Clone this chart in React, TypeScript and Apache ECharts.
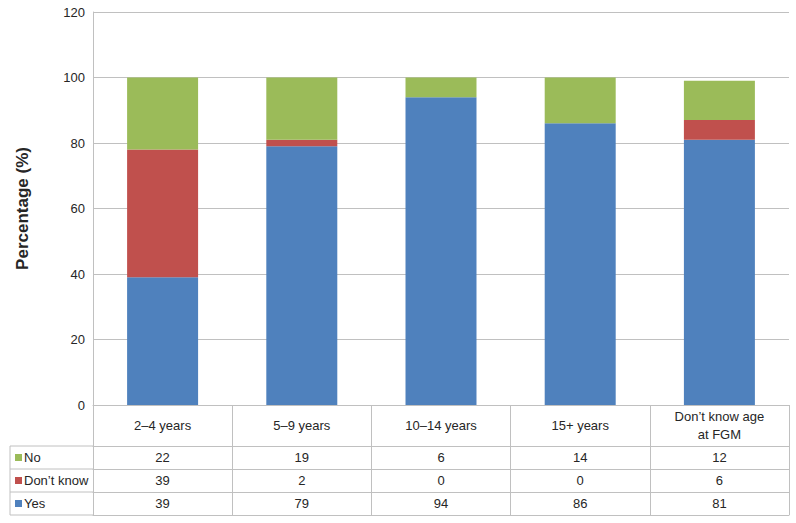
import React, { useEffect, useRef } from "react";
import * as echarts from "echarts";

const categories = ["2–4 years", "5–9 years", "10–14 years", "15+ years", "Don’t know age\nat FGM"];
const yesValues = [39, 79, 94, 86, 81];
const dontKnowValues = [39, 2, 0, 0, 6];
const noValues = [22, 19, 6, 14, 12];
const rowNames = ["No", "Don’t know", "Yes"];
const colors = { No: "#9BBB59", DontKnow: "#C0504D", Yes: "#4F81BD" };
const yTicks = { min: 0, max: 120, interval: 20 };

const GRAY = "#c0c0c0";
const TEXT = "#262626";
const FONT = "Liberation Sans, Arial, sans-serif";

export default function App() {
  const ref = useRef<HTMLDivElement>(null);
  useEffect(() => {
    if (!ref.current) return;
    const chart = echarts.init(ref.current, undefined, { renderer: "svg" });
    const gridLeft = 93;
    const gridBottom = 118;
    const rowAxis = (vals: (number | string)[], offset: number, showLabel: boolean) => ({
      type: "category",
      data: vals.map(String),
      position: "bottom",
      offset,
      gridIndex: 0,
      axisLine: { show: true, lineStyle: { color: GRAY, width: 1 } },
      axisTick: { show: false },
      axisLabel: {
        show: showLabel,
        margin: 11.5,
        verticalAlign: "middle",
        fontSize: 13,
        color: TEXT,
        fontFamily: FONT,
      },
    });
    const rowLabelColors = [colors.No, colors.DontKnow, colors.Yes];
    const rowY = [457.5, 480.5, 503.5];
    const graphic: any[] = [];
    [446, 469, 492, 515].forEach((y) =>
      graphic.push({ type: "line", shape: { x1: 10, y1: y, x2: gridLeft, y2: y }, style: { stroke: GRAY, lineWidth: 1 } })
    );
    graphic.push({ type: "line", shape: { x1: 10, y1: 446, x2: 10, y2: 515 }, style: { stroke: GRAY, lineWidth: 1 } });
    rowNames.forEach((n, i) => {
      graphic.push({ type: "rect", shape: { x: 15, y: rowY[i] - 3.5, width: 7, height: 7 }, style: { fill: rowLabelColors[i] } });
      graphic.push({
        type: "text",
        x: 24,
        y: rowY[i],
        style: { text: n, fontSize: 13, fill: TEXT, fontFamily: FONT, verticalAlign: "middle", align: "left" },
      });
    });
    chart.setOption({
      animation: false,
      grid: { left: gridLeft, right: 7, top: 12, bottom: gridBottom, containLabel: false, outerBoundsMode: "none" },
      xAxis: [
        {
          type: "category",
          data: categories,
          position: "bottom",
          axisLine: { show: true, lineStyle: { color: GRAY, width: 1 } },
          axisTick: { show: true, length: 110, lineStyle: { color: GRAY, width: 1 } },
          axisLabel: {
            margin: 20,
            verticalAlign: "middle",
            lineHeight: 18,
            fontSize: 13,
            color: TEXT,
            fontFamily: FONT,
            interval: 0,
          },
        },
        rowAxis(noValues, 41, true),
        rowAxis(dontKnowValues, 64, true),
        rowAxis(yesValues, 87, true),
        rowAxis(yesValues, 110, false),
      ],
      yAxis: {
        type: "value",
        min: yTicks.min,
        max: yTicks.max,
        interval: yTicks.interval,
        name: "Percentage (%)",
        nameLocation: "middle",
        nameGap: 62,
        nameTextStyle: { fontSize: 17, fontWeight: "bold", color: TEXT, fontFamily: FONT },
        axisLine: { show: true, lineStyle: { color: GRAY, width: 1 } },
        axisTick: { show: false },
        axisLabel: { margin: 8, fontSize: 13, color: TEXT, fontFamily: FONT },
        splitLine: { show: true, lineStyle: { color: GRAY, width: 1 } },
      },
      series: [
        { name: "Yes", type: "bar", stack: "total", data: yesValues, barWidth: "51%", itemStyle: { color: colors.Yes }, xAxisIndex: 0 },
        { name: "Don’t know", type: "bar", stack: "total", data: dontKnowValues, barWidth: "51%", itemStyle: { color: colors.DontKnow }, xAxisIndex: 0 },
        { name: "No", type: "bar", stack: "total", data: noValues, barWidth: "51%", itemStyle: { color: colors.No }, xAxisIndex: 0 },
      ],
      graphic,
    });
    return () => chart.dispose();
  }, []);
  return <div ref={ref} style={{ width: 796, height: 523, position: "absolute", left: 0, top: 0, background: "#fff" }} />;
}
